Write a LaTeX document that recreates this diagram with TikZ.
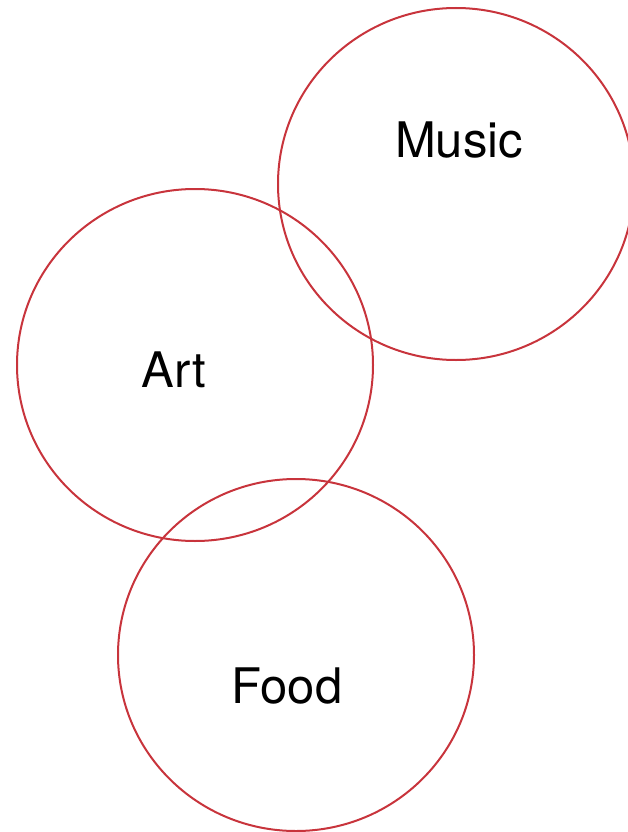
\documentclass[tikz,border=0pt]{standalone}
\usepackage{fontspec}
\setmainfont{TeX Gyre Heros}
\usepackage{tikz}
\usetikzlibrary{shapes.geometric,positioning}
\usepackage{xcolor}
\definecolor{vennred}{RGB}{200,52,60}

\begin{document}
\begin{tikzpicture}[
        x=1pt, y=-1pt,
        ring/.style={ellipse,draw=vennred,line width=2pt,minimum width=356pt,minimum height=352pt,inner sep=0pt},
        label/.style={font=\fontsize{49}{58}\selectfont,inner sep=0pt}
    ]
        \useasboundingbox (0,0) rectangle (628,832);

        \node[ring] (music) at (456,184) {};
        \node[ring] (art) at (195,365) {};
        \node[ring] (food) at (296,655) {};

        \node[label] (musictext) at (459,140) {Music};
        \node[label] (arttext) at (174,370) {Art};
        \node[label] (foodtext) at (287,686) {Food};
    \end{tikzpicture}
\end{document}
